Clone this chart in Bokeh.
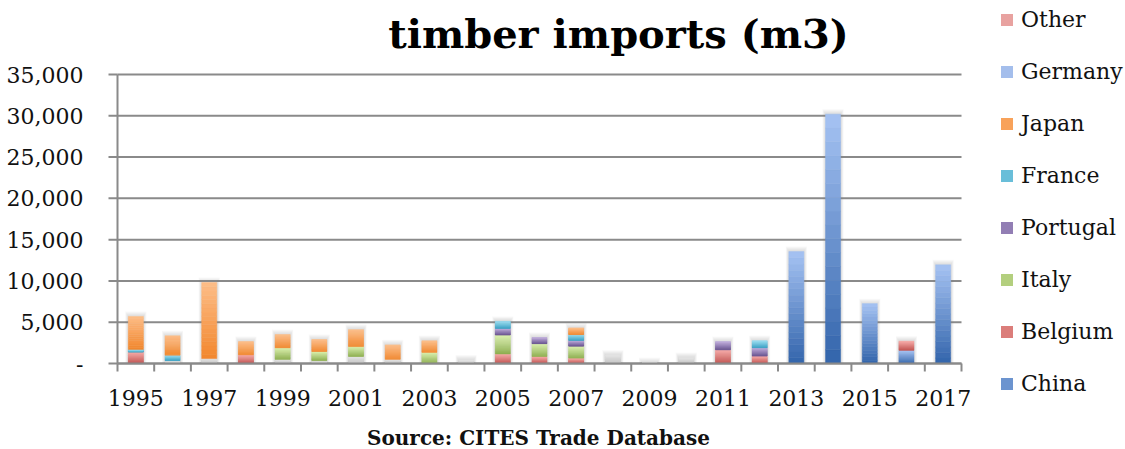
import numpy as np
from bokeh.plotting import figure
from bokeh.models import Legend, LegendItem, ColumnDataSource, Range1d, Label
from bokeh.core.properties import value
from bokeh.embed import file_html
from bokeh.resources import INLINE

# ---------------- data ----------------
years = list(range(1995, 2018))
year_labels = [1995, 1997, 1999, 2001, 2003, 2005, 2007, 2009, 2011, 2013, 2015, 2017]
y_ticks = [0, 5000, 10000, 15000, 20000, 25000, 30000, 35000]

#            95   96   97   98   99   00   01   02   03   04   05   06   07   08   09   10   11   12   13     14     15    16    17
unspecified = [0, 350, 600, 0, 500, 350, 850, 500, 0, 400, 0, 0, 0, 1000, 100, 700, 0, 0, 0, 0, 0, 0, 0]
china = [0, 0, 0, 0, 0, 0, 0, 0, 0, 0, 0, 0, 0, 0, 0, 0, 0, 0, 13550, 30200, 7250, 1600, 11950]
belgium = [1400, 0, 0, 1050, 0, 0, 0, 0, 0, 0, 1150, 850, 650, 0, 0, 0, 1650, 900, 0, 0, 0, 1100, 0]
italy = [0, 0, 0, 0, 1400, 1100, 1200, 0, 1350, 0, 2300, 1550, 1450, 0, 0, 0, 0, 0, 0, 0, 0, 0, 0]
portugal = [0, 0, 0, 0, 0, 0, 0, 0, 0, 0, 800, 750, 700, 0, 0, 0, 1000, 1000, 0, 0, 0, 0, 0]
france = [300, 650, 0, 0, 0, 0, 0, 0, 0, 0, 850, 0, 700, 0, 0, 0, 0, 850, 0, 0, 0, 0, 0]
japan = [4000, 2350, 9200, 1600, 1600, 1450, 2050, 1750, 1400, 0, 0, 0, 800, 0, 0, 0, 0, 0, 0, 0, 0, 0, 0]
germany = [0] * 23
other = [0] * 23

# stacking order bottom -> top
series = [
    ("unspecified", unspecified, ("#e4e4e4", "#c4c4c4"), False),
    ("China", china, ("#a6c3f3", "#3264ab"), True),
    ("Belgium", belgium, ("#f6aaa8", "#c0504d"), True),
    ("Italy", italy, ("#daf0ae", "#8cae4e"), True),
    ("Portugal", portugal, ("#bfaddb", "#66508e"), True),
    ("France", france, ("#9adcf0", "#38a0c2"), True),
    ("Japan", japan, ("#fdbd88", "#f2872d"), True),
    ("Germany", germany, ("#bed3f8", "#8aaadf"), True),
    ("Other", other, ("#f7b7b5", "#d98d8c"), True),
]

SERIF = "DejaVu Serif"
BAR_W = 0.41
N_SLICES = 18
GRAY = "#8a8a8a"
TXT = "#111111"

# ---------------- layout geometry (pixels) ----------------
W, H = 1125, 449
PLOT_LEFT_PX = 117               # left end of the category area (y-axis line)
PLOT_RIGHT_PX = 961              # right end of the category area
TOP_PX, ZERO_PX = 74, 363        # pixel rows of 35,000 and 0
Y_MAX = 35000.0
n_cat = len(years)
px_x = n_cat / (PLOT_RIGHT_PX - PLOT_LEFT_PX)
px_y = Y_MAX / (ZERO_PX - TOP_PX)
x0 = years[0] - 0.5


def X(px):          # canvas pixel column -> data x
    return x0 + (px - PLOT_LEFT_PX) * px_x


def Y(px):          # canvas pixel row -> data y
    return (ZERO_PX - px) * px_y


def mid_anchor(baseline_px, size):   # text drawn with 'middle' baseline
    return baseline_px - 0.346 * size


def hex2rgb(h):
    h = h.lstrip("#")
    return np.array([int(h[i:i + 2], 16) for i in (0, 2, 4)], dtype=float)


def rgb2hex(c):
    return "#%02x%02x%02x" % tuple(int(round(v)) for v in c)


def mix(top, bot, t):
    return rgb2hex(hex2rgb(bot) * (1 - t) + hex2rgb(top) * t)


p = figure(width=W, height=H, output_backend="svg", toolbar_location=None,
           x_range=Range1d(X(0), X(W)), y_range=Range1d(Y(H), Y(0)),
           x_axis_location=None, y_axis_location=None,
           min_border_left=0, min_border_right=0, min_border_top=0, min_border_bottom=0)
p.outline_line_color = None
p.background_fill_color = "white"
p.border_fill_color = "white"
p.grid.visible = False

boundaries = [y - 0.5 for y in years] + [years[-1] + 0.5]
nb = len(boundaries)

# ---------------- horizontal gridlines (category area only) ----------------
p.segment(x0=[boundaries[0]] * len(y_ticks), x1=[boundaries[-1]] * len(y_ticks),
          y0=y_ticks, y1=y_ticks, line_color=GRAY, line_width=2)

# ---------------- soft shadow / glow behind stacks ----------------
totals = np.sum([np.array(s[1], dtype=float) for s in series], axis=0)
xs = np.array(years, dtype=float)
mask = totals > 0
for k in (5, 4, 3, 2, 1):
    p.quad(left=xs[mask] - BAR_W / 2 - k * px_x * 0.6, right=xs[mask] + BAR_W / 2 + k * px_x * 0.6,
           bottom=0, top=totals[mask] + k * px_y,
           fill_color="#8a8a8a", fill_alpha=0.06, line_color=None)

# ---------------- gradient bar segments ----------------
base = np.zeros(n_cat)
legend_items = []
for name, vals, (ctop, cbot), in_legend in series:
    v = np.array(vals, dtype=float)
    L, R, B, T, C = [], [], [], [], []
    for i, val in enumerate(v):
        if val <= 0:
            continue
        b0, t0 = base[i], base[i] + val
        for s in range(N_SLICES):
            L.append(years[i] - BAR_W / 2)
            R.append(years[i] + BAR_W / 2)
            B.append(b0 + (t0 - b0) * s / N_SLICES)
            T.append(b0 + (t0 - b0) * (s + 1) / N_SLICES)
            C.append(mix(ctop, cbot, (s + 0.5) / N_SLICES))
    base = base + v
    src = ColumnDataSource(dict(left=L, right=R, bottom=B, top=T, color=C))
    p.quad(left="left", right="right", bottom="bottom", top="top", fill_color="color",
           line_color="color", line_width=0.5, source=src)
    if in_legend:
        # legend swatch renderer, parked beyond the visible x range
        swatch = p.quad(left=[X(W) + 1], right=[X(W) + 2], bottom=[0], top=[1],
                        fill_color=mix(ctop, cbot, 0.5), line_color=None)
        legend_items.append(LegendItem(label=name, renderers=[swatch]))

# ---------------- x axis (drawn as glyphs) ----------------
p.segment(x0=[boundaries[0]], x1=[boundaries[-1]], y0=[0], y1=[0],
          line_color=GRAY, line_width=2)
p.segment(x0=boundaries, x1=boundaries, y0=[0] * nb, y1=[-8 * px_y] * nb,
          line_color=GRAY, line_width=2)
p.text(x=year_labels, y=[Y(mid_anchor(405, 22))] * len(year_labels),
       text=[str(yr) for yr in year_labels], text_font=value(SERIF), text_font_size="22px",
       text_align="center", text_baseline="middle", text_color=TXT)
p.add_layout(Label(x=X(538), y=Y(mid_anchor(444, 20)), text="Source: CITES Trade Database",
                   text_font=SERIF, text_font_style="bold", text_font_size="20px",
                   text_align="center", text_baseline="middle", text_color=TXT))

# ---------------- y axis (drawn as glyphs) ----------------
nt = len(y_ticks)
p.segment(x0=[boundaries[0]], x1=[boundaries[0]], y0=[0], y1=[Y_MAX],
          line_color=GRAY, line_width=2)
p.segment(x0=[boundaries[0] - 9 * px_x] * nt, x1=[boundaries[0]] * nt, y0=y_ticks, y1=y_ticks,
          line_color=GRAY, line_width=2)
y_tick_text = ["-" if t == 0 else f"{t:,}" for t in y_ticks]
p.text(x=[X(83)] * nt, y=y_ticks, text=y_tick_text, text_font=value(SERIF),
       text_font_size="22px", text_align="right", text_baseline="middle", text_color=TXT)

# ---------------- title ----------------
p.add_layout(Label(x=X(618), y=Y(mid_anchor(47, 40)), text="timber imports (m3)",
                   text_font=SERIF, text_font_style="bold", text_font_size="40px",
                   text_align="center", text_baseline="middle", text_color="#000000"))

# ---------------- legend ----------------
legend = Legend(items=legend_items[::-1], location=(999, H - 396),
                orientation="vertical", padding=0, margin=0, spacing=26,
                glyph_width=15, glyph_height=15, label_height=26, label_standoff=7,
                label_text_font=SERIF, label_text_font_size="22px",
                label_text_color=TXT, border_line_color=None,
                background_fill_alpha=0)
p.add_layout(legend)

open("out.html", "w").write(file_html(p, INLINE))
